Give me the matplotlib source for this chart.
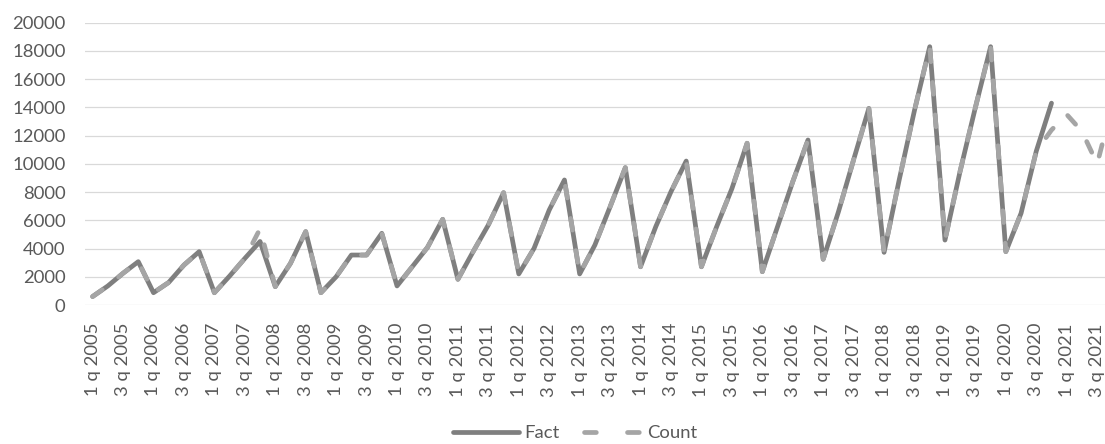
import matplotlib
matplotlib.use("Agg")
import matplotlib.pyplot as plt

plt.rcParams['font.family'] = ['Lato', 'DejaVu Sans']

# quarterly categories 1 q 2005 .. 4 q 2021
quarters = [f"{q} q {y}" for y in range(2005, 2022) for q in range(1, 5)]

# actual values (2005 Q1 .. 2020 Q4)
fact = [600, 1350, 2250, 3070,
        870, 1600, 2830, 3780,
        870, 2050, 3300, 4500,
        1300, 2950, 5200, 870,
        2000, 3540, 3540, 5080,
        1350, 2710, 4080, 6070,
        1820, 3780, 5670, 7960,
        2200, 4010, 6730, 8860,
        2200, 4250, 6960, 9730,
        2710, 5550, 8030, 10200,
        2710, 5550, 8240, 11460,
        2360, 5550, 8740, 11690,
        3240, 6600, 10300, 13930,
        3730, 8900, 13800, 18300,
        4600, 9500, 14000, 18300,
        3780, 6500, 10900, 14300]

# calculated values (2005 Q1 .. 2021 Q4)
count = [600, 1350, 2250, 3070,
         870, 1600, 2830, 3780,
         870, 2050, 3300, 5400,
         1300, 2950, 5200, 870,
         2000, 3540, 3540, 5080,
         1350, 2710, 4080, 6070,
         1820, 3780, 5670, 7960,
         2200, 4010, 6730, 8860,
         2200, 4250, 6960, 9730,
         2710, 5550, 8030, 10200,
         2710, 5550, 8240, 11460,
         2360, 5550, 8740, 11690,
         3240, 6600, 10300, 13930,
         3730, 8900, 13800, 18300,
         4600, 9500, 14000, 18300,
         3780, 6500, 10900, 12400,
         13500, 12300, 10000, 14200]

fig = plt.figure(figsize=(11.05, 4.44), dpi=100)
ax = fig.add_axes([85 / 1105, 139 / 444, 1035 / 1105, 282.3 / 444])

lw = 3.4
ax.plot(range(len(fact)), fact, color='#7f7f7f', lw=lw,
        solid_capstyle='round', solid_joinstyle='round', label='Fact')
ax.plot(range(len(count)), count, color='#a5a5a5', lw=lw,
        linestyle=(0, (2.5, 4.4)), dash_capstyle='round',
        dash_joinstyle='round', label='Count')

ax.set_xlim(-0.5, len(quarters) - 0.5)
ax.set_ylim(0, 20000)
ax.set_yticks(range(0, 20001, 2000))
ax.set_xticks(range(0, len(quarters), 2))
ax.set_xticklabels(quarters[::2], rotation=90)

ax.grid(axis='y', color='#d9d9d9', lw=0.9)
ax.set_axisbelow(True)
for s in ax.spines.values():
    s.set_visible(False)
ax.tick_params(axis='y', length=0, pad=14, labelsize=13.3, labelcolor='#595959')
ax.tick_params(axis='x', length=0, pad=13, labelsize=13.3, labelcolor='#595959')

leg = fig.legend(loc='center', bbox_to_anchor=(575 / 1105, 11 / 444), ncol=2,
                 frameon=False, fontsize=13.3, labelcolor='#595959',
                 handlelength=3.6, handletextpad=0.25, columnspacing=0.9)
# legend sample of the dashed line: two dashes with a gap before the text
leg.get_lines()[1].set_linestyle((7.4, (2.5, 6.6)))

fig.savefig('out.png', dpi=100)
